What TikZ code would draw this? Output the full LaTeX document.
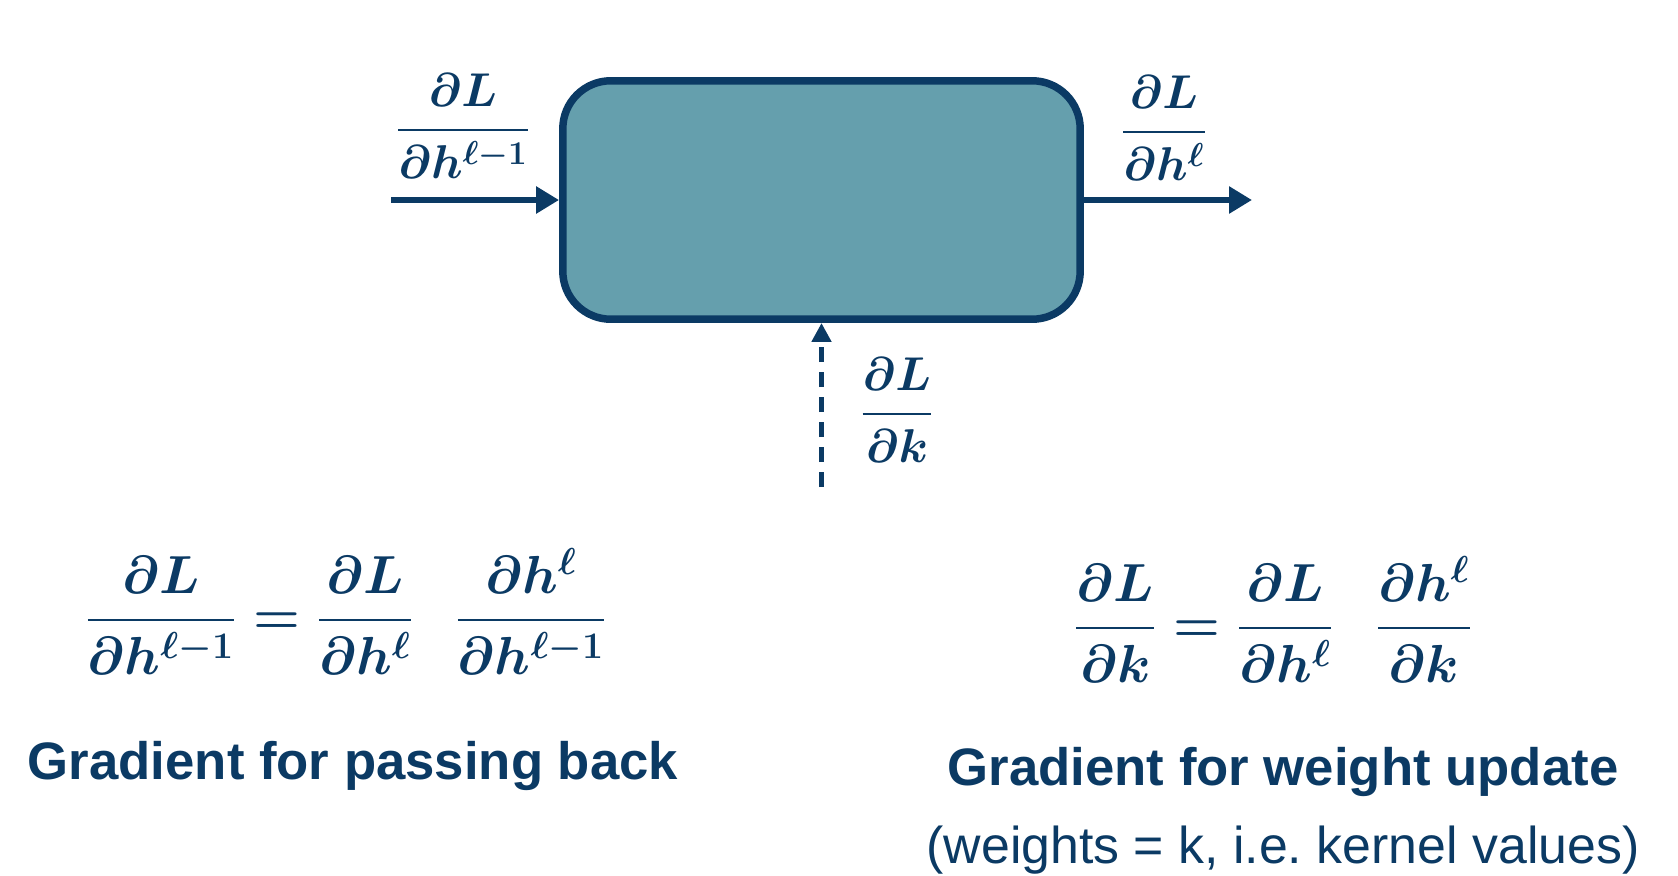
\RequirePackage{fix-cm}
\documentclass[tikz,border=0pt]{standalone}
\usepackage{amsmath,amssymb}
\usepackage{fontspec}
\setsansfont{Liberation Sans}
\usepackage{xcolor}
\usetikzlibrary{arrows.meta,positioning}
\definecolor{navy}{HTML}{0B3A64}
\definecolor{layerTeal}{HTML}{659FAD}

\begin{document}
\begin{tikzpicture}[x=0.02cm,y=-0.02cm,>={Triangle[length=0.46cm,width=0.52cm]},
  lbl/.style={text=navy,font=\fontsize{27}{32}\selectfont\boldmath,inner sep=0pt},
  eqn/.style={text=navy,font=\fontsize{30.5}{36}\selectfont\boldmath,inner sep=0pt},
  heading/.style={text=navy,font=\fontsize{30}{34}\selectfont\sffamily\bfseries,inner sep=0pt},
  note/.style={text=navy,font=\fontsize{29.5}{34}\selectfont\sffamily,inner sep=0pt},
  flow/.style={->,navy,line width=0.12cm}]
\useasboundingbox (0,0) rectangle (1678,876);
% layer block
\node[draw=navy,fill=layerTeal,line width=0.15cm,rounded corners=0.96cm,minimum width=10.35cm,minimum height=4.77cm] (layer) at (821.5,200) {};
% gradients flowing through the block
\coordinate (in) at (391,200);
\coordinate (out) at (1252,200);
\coordinate (kin) at (821.5,487);
\draw[flow] (in) -- (layer.west);
\draw[flow] (layer.east) -- (out);
\draw[flow,line width=0.1cm,dash pattern=on 0.3cm off 0.2cm,>={Triangle[length=0.38cm,width=0.38cm]}] (kin) -- (layer.south);
\node[lbl] (gin) at (463,126) {$\dfrac{\partial L}{\partial h^{\ell-1}}$};
\node[lbl] (gout) at (1164,128) {$\dfrac{\partial L}{\partial h^{\ell}}$};
\node[lbl] (gk) at (897,410) {$\dfrac{\partial L}{\partial k}$};
% chain rule, passing back
\node[eqn] (eqback) at (346,611) {$\dfrac{\partial L}{\partial h^{\ell-1}}=\dfrac{\partial L}{\partial h^{\ell}}\hspace{0.8em}\dfrac{\partial h^{\ell}}{\partial h^{\ell-1}}$};
\node[heading] (headback) at (353,766) {Gradient for passing back};
% chain rule, weight update
\node[eqn] (eqweight) at (1273,619) {$\dfrac{\partial L}{\partial k}=\dfrac{\partial L}{\partial h^{\ell}}\hspace{0.8em}\dfrac{\partial h^{\ell}}{\partial k}$};
\node[heading] (headweight) at (1283,772) {Gradient for weight update};
\node[note] (noteweight) at (1283,850) {(weights = k, i.e.\ kernel values)};
\end{tikzpicture}
\end{document}
